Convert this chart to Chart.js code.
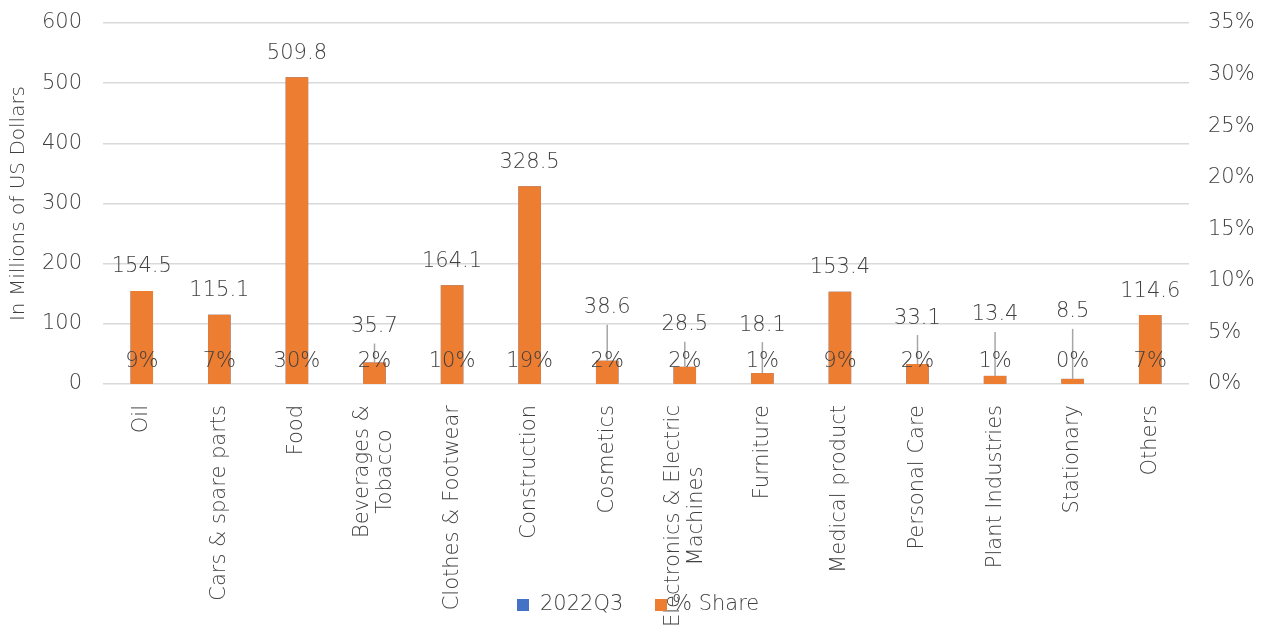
<!DOCTYPE html>
<html>
<head>
<meta charset="utf-8">
<script src="https://cdn.jsdelivr.net/npm/chart.js@4.4.0/dist/chart.umd.min.js"></script>
<style>
  html, body { margin: 0; padding: 0; background: #fff; }
  #wrap { width: 1268px; height: 633px; }
</style>
</head>
<body>
<div id="wrap"><canvas id="tradeChart"></canvas></div>
<script>
// categories and series
const categories = ["Oil", "Cars & spare parts", "Food", ["Beverages &", "Tobacco"], "Clothes & Footwear",
    "Construction", "Cosmetics", ["Electronics & Electric", "Machines"], "Furniture", "Medical product",
    "Personal Care", "Plant Industries", "Stationary", "Others"];
const values2022Q3 = [154.5, 115.1, 509.8, 35.7, 164.1, 328.5, 38.6, 28.5, 18.1, 153.4, 33.1, 13.4, 8.5, 114.6];
const shareValues = [9.02, 6.72, 29.74, 2.09, 9.58, 19.17, 2.26, 1.67, 1.06, 8.95, 1.94, 0.79, 0.496, 6.69];
const leftTicks = [0, 100, 200, 300, 400, 500, 600];
const rightTicks = [0, 5, 10, 15, 20, 25, 30, 35];

// how far each value label sits above its bar (px); bigger ones get a leader line
const labelLift = [24, 24, 24, 36, 24, 24, 53, 42, 48, 24, 46, 61, 67, 24];

const FONT = "'DejaVu Sans', sans-serif";
const WEIGHT = "300";
const TEXT = "#404040";
const BLUE = "#4472C4";
const ORANGE = "#ED7D31";

const labelPlugin = {
    id: "labelPlugin",
    afterDatasetsDraw(chart) {
        const ctx = chart.ctx;
        const xScale = chart.scales.x;
        const y1 = chart.scales.y1;
        const bars = chart.getDatasetMeta(0).data;
        const baseY = y1.getPixelForValue(0);

        ctx.save();
        ctx.font = WEIGHT + " 21px " + FONT;
        ctx.textAlign = "center";
        ctx.textBaseline = "middle";

        values2022Q3.forEach((v, i) => {
            const x = xScale.getPixelForValue(i);
            const top = bars[i].y;
            const ly = top - labelLift[i];
            if (labelLift[i] > 30) {
                ctx.strokeStyle = "#A6A6A6";
                ctx.lineWidth = 1.5;
                ctx.beginPath();
                ctx.moveTo(x, ly + 17);
                ctx.lineTo(x, top);
                ctx.stroke();
            }
            ctx.fillStyle = TEXT;
            ctx.fillText(v.toFixed(1), x, ly);
        });

        // share labels along the base
        shareValues.forEach((s, i) => {
            const x = xScale.getPixelForValue(i);
            ctx.fillStyle = TEXT;
            ctx.fillText(Math.round(s) + "%", x, baseY - 22);
        });

        // rotated category names, lines centred on each other
        ctx.fillStyle = TEXT;
        categories.forEach((c, i) => {
            const lines = Array.isArray(c) ? c : [c];
            const x = xScale.getPixelForValue(i);
            const w = Math.max(...lines.map(l => ctx.measureText(l).width));
            ctx.save();
            ctx.translate(x, chart.chartArea.bottom + 21);
            ctx.rotate(-Math.PI / 2);
            lines.forEach((l, k) => {
                const off = (k - (lines.length - 1) / 2) * 23;
                ctx.fillText(l, -w / 2, off);
            });
            ctx.restore();
        });

        // legend
        const items = [["2022Q3", BLUE, 517], ["% Share", ORANGE, 655]];
        ctx.textAlign = "left";
        items.forEach(([name, col, lx]) => {
            ctx.fillStyle = col;
            ctx.fillRect(lx, 599, 12, 12);
            ctx.fillStyle = TEXT;
            ctx.fillText(name, lx + (name === "2022Q3" ? 23 : 17), 605);
        });
        ctx.restore();
    }
};

const fitValueAxis = (s, width) => {
    s.width = width;
    s.paddingTop = 0;
    s.paddingBottom = 0;
};

new Chart(document.getElementById("tradeChart"), {
    type: "bar",
    data: {
        labels: categories,
        datasets: [
            {
                label: "2022Q3",
                data: values2022Q3,
                backgroundColor: BLUE,
                yAxisID: "y",
                order: 2,
                grouped: false,
                barPercentage: 0.29,
                categoryPercentage: 1
            },
            {
                label: "% Share",
                data: shareValues,
                backgroundColor: ORANGE,
                yAxisID: "y1",
                order: 1,
                grouped: false,
                barPercentage: 0.29,
                categoryPercentage: 1
            }
        ]
    },
    plugins: [labelPlugin],
    options: {
        responsive: true,
        maintainAspectRatio: false,
        animation: false,
        layout: { padding: { top: 23, left: 0, right: 0, bottom: 0 } },
        plugins: {
            legend: { display: false },
            tooltip: { enabled: false }
        },
        scales: {
            x: {
                grid: { display: false },
                border: { display: false },
                ticks: { display: false },
                afterFit: s => { s.height = 249; }
            },
            y: {
                position: "left",
                min: 0,
                max: 600,
                afterBuildTicks: s => { s.ticks = leftTicks.map(v => ({ value: v })); },
                afterFit: s => fitValueAxis(s, 103),
                grid: { color: "#D9D9D9", lineWidth: 1.5, drawTicks: false },
                border: { display: false },
                ticks: { color: TEXT, font: { family: FONT, size: 21, weight: WEIGHT }, padding: 21 },
                title: {
                    display: true,
                    text: "In Millions of US Dollars",
                    color: TEXT,
                    font: { family: FONT, size: 20, weight: WEIGHT },
                    padding: { top: 7, bottom: 0 }
                }
            },
            y1: {
                position: "right",
                min: 0,
                max: 35,
                afterBuildTicks: s => { s.ticks = rightTicks.map(v => ({ value: v })); },
                afterFit: s => fitValueAxis(s, 79),
                grid: { display: false, drawTicks: false },
                border: { display: false },
                ticks: {
                    color: TEXT,
                    font: { family: FONT, size: 21, weight: WEIGHT },
                    padding: 19,
                    callback: v => v + "%"
                }
            }
        }
    }
});
</script>
</body>
</html>
